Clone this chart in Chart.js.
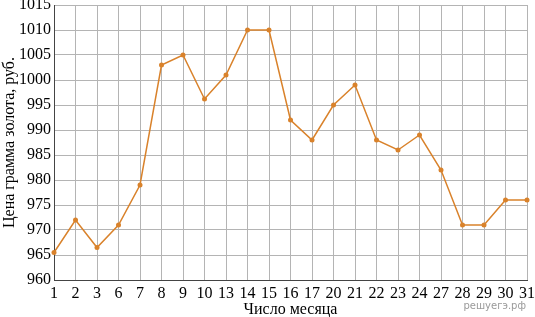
<!DOCTYPE html>
<html>
<head>
<meta charset="utf-8">
<script src="https://cdn.jsdelivr.net/npm/chart.js@4/dist/chart.umd.min.js"></script>
<style>
  html, body { margin: 0; padding: 0; background: #fff; }
  #wrap { position: relative; width: 535px; height: 317px; }
  #mark { position: absolute; right: 9px; bottom: 6px; font: 10px "DejaVu Sans", sans-serif; color: #9a9a9a; }
</style>
</head>
<body>
<div id="wrap">
  <canvas id="chart" width="535" height="317"></canvas>
  <div id="mark">решуегэ.рф</div>
</div>
<script>
// дни месяца и цена грамма золота
const days = ['1', '2', '3', '6', '7', '8', '9', '10', '13', '14', '15', '16', '17', '20', '21', '22', '23', '24', '27', '28', '29', '30', '31'];
const prices = [965.5, 972, 966.5, 971, 979, 1003, 1005, 996.2, 1001, 1010, 1010, 992, 988, 995, 999, 988, 986, 989, 982, 971, 971, 976, 976];

const yMin = 960;
const yMax = 1015;

const serif = '"Liberation Serif", "Times New Roman", serif';
const lineColor = '#d9822b';

new Chart(document.getElementById('chart'), {
  type: 'line',
  data: {
    labels: days,
    datasets: [{
      data: prices,
      borderColor: lineColor,
      backgroundColor: lineColor,
      borderWidth: 1.5,
      pointRadius: 2.5,
      pointBorderWidth: 0,
      tension: 0
    }]
  },
  options: {
    responsive: false,
    animation: false,
    layout: { padding: { top: 5, right: 8, bottom: 0, left: 0 } },
    plugins: {
      legend: { display: false },
      tooltip: { enabled: false }
    },
    scales: {
      x: {
        offset: false,
        grid: { color: '#b4b4b4', lineWidth: 1, drawTicks: false },
        border: { color: '#444', width: 1 },
        ticks: { color: '#000', font: { family: serif, size: 16 }, padding: 4, maxRotation: 0, autoSkip: false },
        title: { display: true, text: 'Число месяца', color: '#000', font: { family: serif, size: 16, lineHeight: 1 }, padding: { top: 0, bottom: -1 } },
        afterFit: s => { s.height = 37; s.paddingLeft = 0; s.paddingRight = 0; }
      },
      y: {
        min: yMin,
        max: yMax,
        grid: { color: '#b4b4b4', lineWidth: 1, drawTicks: false },
        border: { color: '#444', width: 1 },
        ticks: {
          stepSize: 2.5,
          color: '#000',
          font: { family: serif, size: 16 },
          padding: 3,
          callback: v => (v % 5 === 0 ? v : '')
        },
        title: { display: true, text: 'Цена грамма золота, руб.', color: '#000', font: { family: serif, size: 16 }, padding: { top: 0, bottom: 0 } },
        afterFit: s => { s.width = 54; s.paddingTop = 0; s.paddingBottom = 0; }
      }
    }
  }
});
</script>
</body>
</html>
